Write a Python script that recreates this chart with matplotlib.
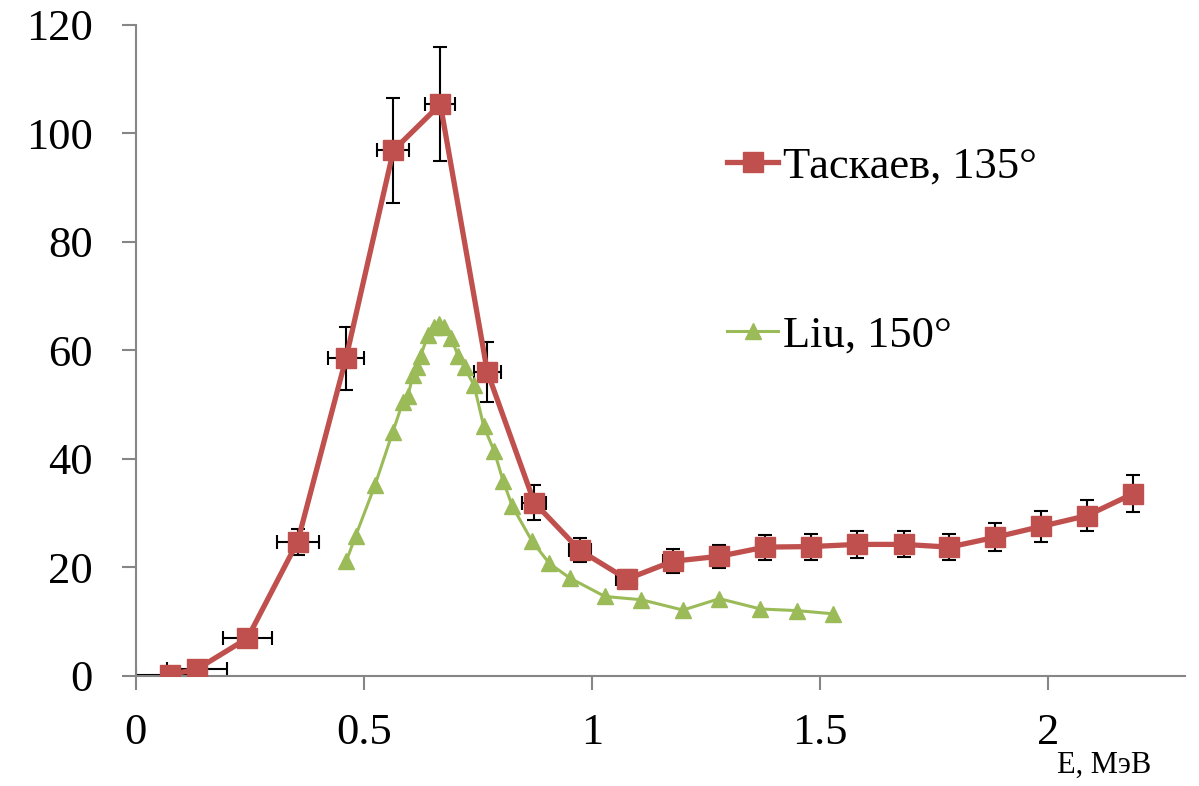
import matplotlib.pyplot as plt

# Таскаев, 135° (with error bars)
tk_x = [0.075, 0.134, 0.245, 0.355, 0.461, 0.565, 0.668, 0.771, 0.874, 0.974, 1.077,
        1.178, 1.279, 1.380, 1.481, 1.582, 1.684, 1.784, 1.884, 1.985, 2.086, 2.186]
tk_y = [0.2, 1.2, 6.9, 24.7, 58.5, 96.8, 105.3, 56.0, 31.9, 23.1, 17.8,
        21.1, 22.0, 23.7, 23.8, 24.2, 24.2, 23.7, 25.5, 27.5, 29.5, 33.5]
tk_yerr = [0.3, 1.0, 0.8, 2.4, 5.8, 9.7, 10.5, 5.5, 3.2, 2.2, 1.7,
           2.2, 2.1, 2.3, 2.4, 2.5, 2.4, 2.4, 2.6, 2.8, 2.9, 3.4]
tk_xerr = [0.074, 0.066, 0.054, 0.046, 0.040, 0.035, 0.033, 0.029, 0.026, 0.025, 0.023,
           0.021, 0.020, 0.019, 0.018, 0.017, 0.017, 0.016, 0.016, 0.015, 0.015, 0.015]

# Liu, 150°
liu_x = [0.462, 0.482, 0.525, 0.564, 0.586, 0.597, 0.608, 0.616, 0.625, 0.641, 0.655,
         0.665, 0.677, 0.692, 0.707, 0.721, 0.742, 0.763, 0.786, 0.806, 0.826, 0.869,
         0.907, 0.952, 1.029, 1.109, 1.200, 1.280, 1.370, 1.450, 1.530]
liu_y = [21.2, 25.7, 35.2, 45.0, 50.5, 51.6, 55.4, 56.8, 59.0, 62.8, 64.3,
         64.8, 64.3, 62.2, 58.9, 56.8, 53.5, 46.0, 41.4, 35.8, 31.2, 24.8,
         20.7, 18.0, 14.6, 14.0, 12.1, 14.2, 12.3, 12.0, 11.4]

x_ticks = [0, 0.5, 1, 1.5, 2]
x_ticklabels = ['0', '0.5', '1', '1.5', '2']
y_ticks = [0, 20, 40, 60, 80, 100, 120]

plt.rcParams['font.family'] = ['Liberation Serif', 'DejaVu Serif']

red = '#C0504D'
green = '#9BBB59'
axis_gray = '#868686'

fig = plt.figure(figsize=(11.99, 7.86), dpi=100)
ax = fig.add_axes([0.1132, 0.1403, 0.8748, 0.8285])

ax.errorbar(tk_x, tk_y, yerr=tk_yerr, xerr=tk_xerr, fmt='none', ecolor='black',
            elinewidth=1.5, capsize=5, capthick=1.5, zorder=2)
ax.plot(tk_x, tk_y, color=red, lw=3.8, marker='s', ms=14, mec=red, mfc=red,
        label='Таскаев, 135°', zorder=3)
ax.plot(liu_x, liu_y, color=green, lw=2.2, marker='^', ms=11, mec=green, mfc=green,
        label='Liu, 150°', zorder=4)

ax.set_xlim(0, 2.3)
ax.set_ylim(0, 120)
ax.set_xticks(x_ticks)
ax.set_xticklabels(x_ticklabels)
ax.set_yticks(y_ticks)

for s in ['top', 'right']:
    ax.spines[s].set_visible(False)
for s in ['left', 'bottom']:
    ax.spines[s].set_color(axis_gray)
    ax.spines[s].set_linewidth(1.5)

ax.tick_params(axis='both', colors=axis_gray, labelcolor='black', labelsize=32,
               length=10, width=1.5, direction='out')
ax.tick_params(axis='y', pad=21)
ax.tick_params(axis='x', pad=17)

ax.legend(loc='upper left', bbox_to_anchor=(0.547, 0.84), frameon=False, fontsize=32,
          handlelength=1.15, handletextpad=0.1, labelspacing=2.9, borderaxespad=0)

fig.text(0.921, 0.008, 'E, МэВ', fontsize=22, ha='center', va='bottom')

plt.savefig('out.png', dpi=100)
